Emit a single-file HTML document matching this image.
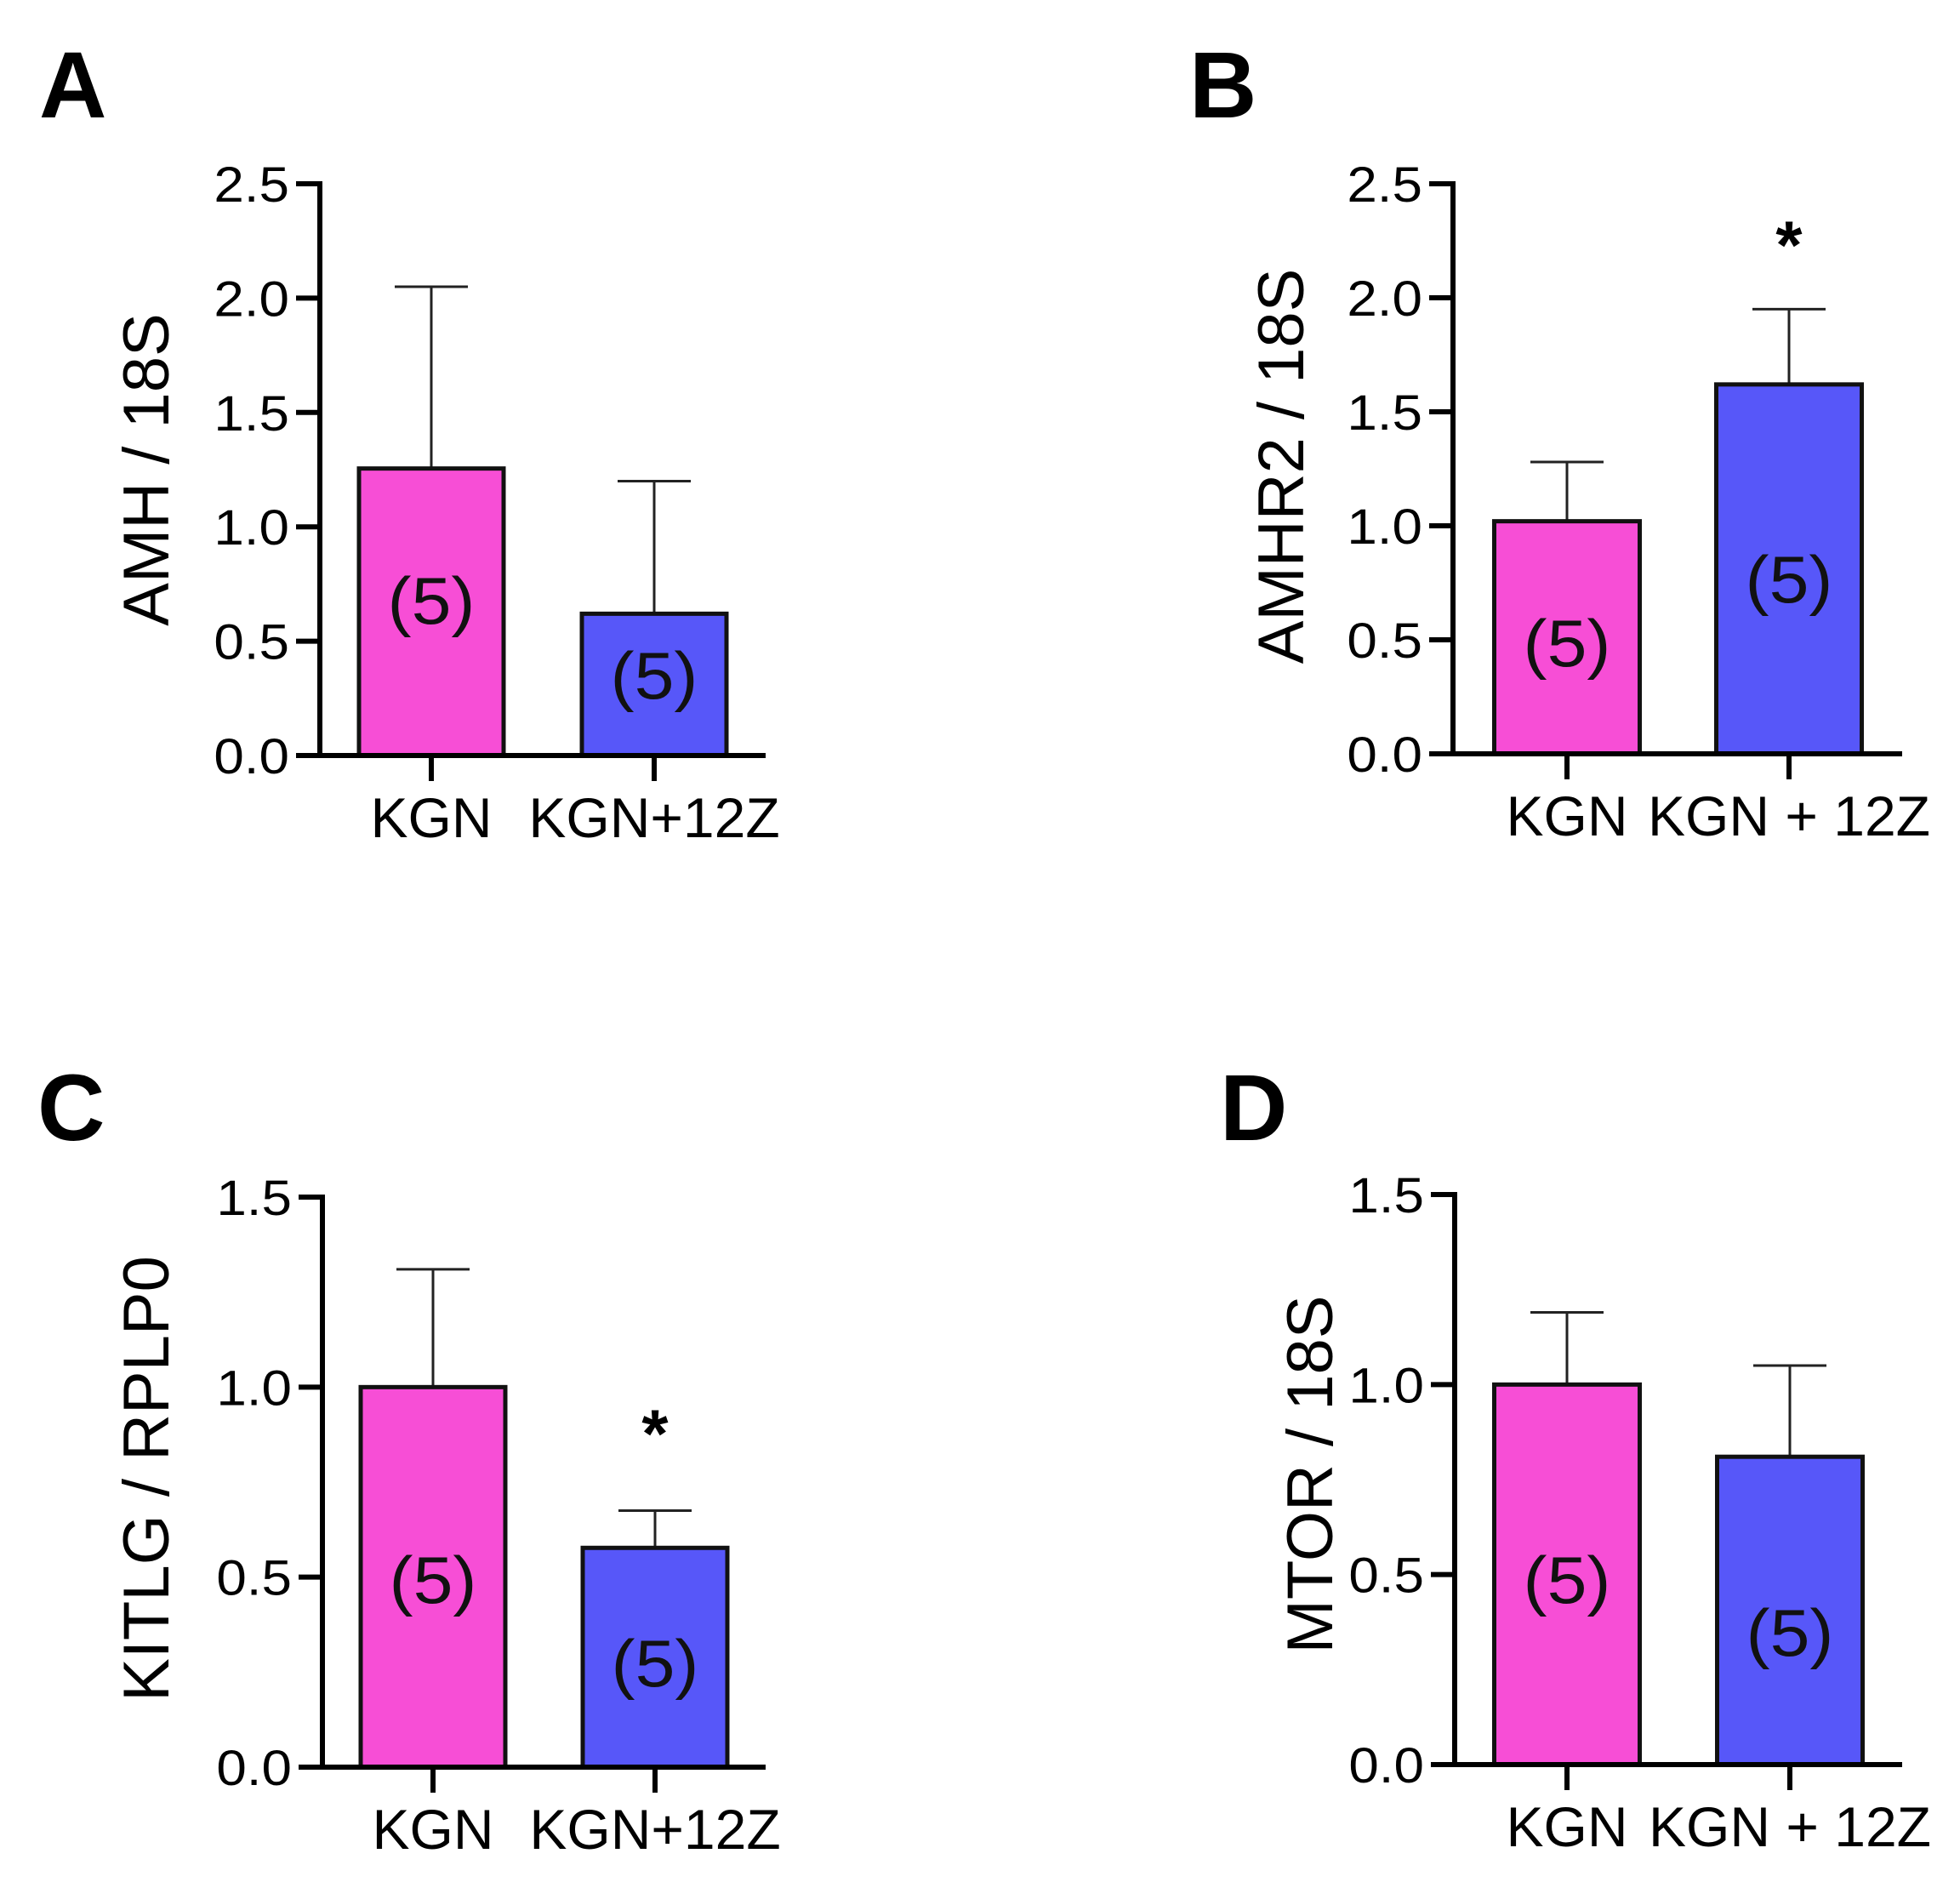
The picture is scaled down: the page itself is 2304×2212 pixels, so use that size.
<!DOCTYPE html>
<html><head><meta charset="utf-8"><style>
html,body{margin:0;padding:0;background:#fff;}
svg{display:block;font-family:"Liberation Sans",Arial,sans-serif;}
</style></head><body>
<svg id="fig" width="2304" height="2212" viewBox="0 0 2304 2212" xmlns="http://www.w3.org/2000/svg"></svg>
<script>
const categoriesA = ["KGN","KGN+12Z"];
const valuesA = [1.255, 0.62];
const errorsA = [2.05, 1.20];
const ticksA = [0,0.5,1.0,1.5,2.0,2.5];
const tickLabelsA = ["0.0","0.5","1.0","1.5","2.0","2.5"];

const categoriesB = ["KGN","KGN + 12Z"];
const valuesB = [1.02, 1.62];
const errorsB = [1.28, 1.95];
const ticksB = [0,0.5,1.0,1.5,2.0,2.5];
const tickLabelsB = ["0.0","0.5","1.0","1.5","2.0","2.5"];

const categoriesC = ["KGN","KGN+12Z"];
const valuesC = [1.0, 0.577];
const errorsC = [1.31, 0.675];
const ticksC = [0,0.5,1.0,1.5];
const tickLabelsC = ["0.0","0.5","1.0","1.5"];

const categoriesD = ["KGN","KGN + 12Z"];
const valuesD = [1.0, 0.81];
const errorsD = [1.19, 1.05];
const ticksD = [0,0.5,1.0,1.5];
const tickLabelsD = ["0.0","0.5","1.0","1.5"];

const NS = "http://www.w3.org/2000/svg";
const svg = document.getElementById("fig");
const colors = ["#F74ED6","#5757F9"];

function mk(tag, attrs, parent){
  const e = document.createElementNS(NS, tag);
  for (const k in attrs) e.setAttribute(k, attrs[k]);
  (parent||svg).appendChild(e);
  return e;
}

function panel(cfg){
  const g = mk("g", {});
  
  
  const y = v => cfg.y0 - v / cfg.max * (cfg.y0 - cfg.yTop);
  const L = mk("text", {x: cfg.lx, y: cfg.ly, "font-size": 110, "font-weight": "bold"}, g);
  L.textContent = cfg.letter;
  
  
  const T = mk("text", {x: 0, y: 0, "font-size": 76, "text-anchor": "middle",
    transform: `translate(${cfg.tx},${cfg.ty}) rotate(-90)`}, g);
  T.textContent = cfg.title;
  
  
  const bw = cfg.bw;
  cfg.values.forEach((v, i) => {
    const cx = cfg.cx[i];
    const top = y(v);
    const eb = mk("line", {x1: cx, x2: cx, y1: y(cfg.errors[i]), y2: top, stroke: "#222", "stroke-width": 3}, g);
    
    
    const cap = mk("line", {x1: cx - 43, x2: cx + 43, y1: y(cfg.errors[i]), y2: y(cfg.errors[i]), stroke: "#222", "stroke-width": 3}, g);
    
    
    const r = mk("rect", {x: cx - bw/2, y: top, width: bw, height: cfg.y0 - top, fill: colors[i], stroke: "#111", "stroke-width": 5}, g);
    
    
    const n = mk("text", {x: 0, y: 0, "font-size": 78, "text-anchor": "middle",
      transform: `translate(${cx},${cfg.ny[i]}) scale(1.08,1)`, fill: "#111"}, g);
    n.textContent = "(5)";
    
    
    const xt = mk("line", {x1: cx, x2: cx, y1: cfg.y0, y2: cfg.y0 + 30, stroke: "#000", "stroke-width": 6}, g);
    
    
    const cl = mk("text", {x: 0, y: 0, "font-size": 66, "text-anchor": "middle",
      transform: `translate(${cx},${cfg.y0 + 96})`}, g);
    cl.textContent = cfg.cats[i];
    
    
  });
  if (cfg.star != null){
    const s = mk("text", {x: cfg.cx[1], y: y(cfg.errors[1]) - cfg.star, "font-size": 80, "font-weight": "bold", "text-anchor": "middle"}, g);
    s.textContent = "*";
    
    
  }
  const ya = mk("line", {x1: cfg.ax, x2: cfg.ax, y1: cfg.yTop - 3, y2: cfg.y0 + 3, stroke: "#000", "stroke-width": 6}, g);
  
  
  const xa = mk("line", {x1: cfg.ax - 28, x2: cfg.xEnd, y1: cfg.y0, y2: cfg.y0, stroke: "#000", "stroke-width": 6}, g);
  
  
  cfg.ticks.forEach((t, i) => {
    const tl = mk("line", {x1: cfg.ax - 28, x2: cfg.ax, y1: y(t), y2: y(t), stroke: "#000", "stroke-width": 6}, g);
    
    
    const tx = mk("text", {x: 0, y: 0, "font-size": 58, "text-anchor": "end",
      transform: `translate(${cfg.ax - 36},${y(t) + 21}) scale(1.1,1)`}, g);
    tx.textContent = cfg.tickLabels[i];
    
    
  });
}

panel({letter:"A", lx:46, ly:138, title:"AMH / 18S", tx:198, ty:552,
  ax:376, yTop:216, y0:888, xEnd:900, max:2.5, cx:[507,769], bw:170,
  values:valuesA, errors:errorsA, ticks:ticksA, tickLabels:tickLabelsA, cats:categoriesA,
  ny:[733,821], star:null});
panel({letter:"B", lx:1398, ly:138, title:"AMHR2 / 18S", tx:1532, ty:548,
  ax:1708, yTop:216, y0:886, xEnd:2236, max:2.5, cx:[1842,2103], bw:171,
  values:valuesB, errors:errorsB, ticks:ticksB, tickLabels:tickLabelsB, cats:categoriesB,
  ny:[783,708], star:48});
panel({letter:"C", lx:44, ly:1340, title:"KITLG / RPLP0", tx:198, ty:1738,
  ax:379, yTop:1407, y0:2077, xEnd:900, max:1.5, cx:[509,770], bw:170,
  values:valuesC, errors:errorsC, ticks:ticksC, tickLabels:tickLabelsC, cats:categoriesC,
  ny:[1884,1982], star:63});
panel({letter:"D", lx:1434, ly:1340, title:"MTOR / 18S", tx:1566, ty:1733,
  ax:1710, yTop:1404, y0:2074, xEnd:2236, max:1.5, cx:[1842,2104], bw:171,
  values:valuesD, errors:errorsD, ticks:ticksD, tickLabels:tickLabelsD, cats:categoriesD,
  ny:[1884,1946], star:null});
</script>
</body></html>
